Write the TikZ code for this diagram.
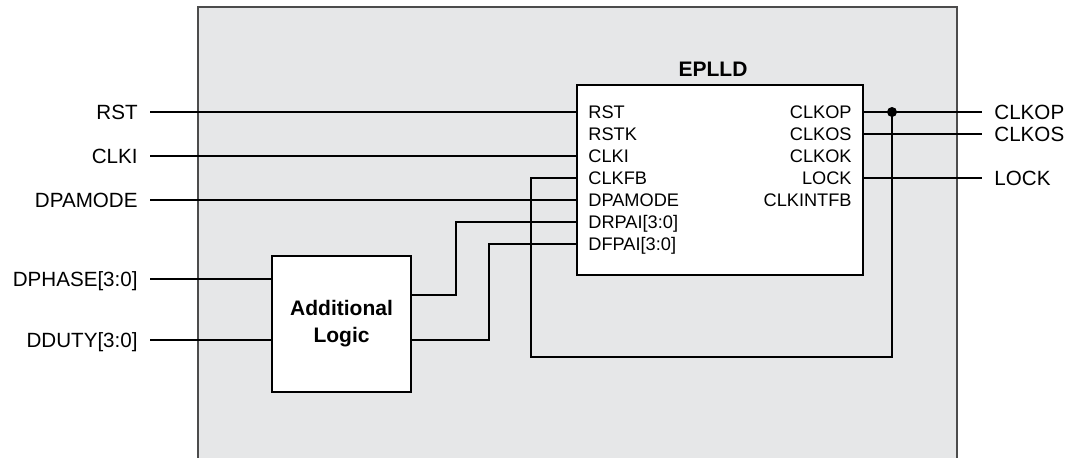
\documentclass[tikz,border=0pt]{standalone}
\usepackage{fontspec}
\setmainfont{Liberation Sans}
\usetikzlibrary{positioning,calc}
\definecolor{panel}{RGB}{230,231,232}

\begin{document}
\begin{tikzpicture}[x=0.5pt,y=-0.5pt,
 wire/.style={line width=0.55pt},
 block/.style={draw,line width=0.75pt,fill=white,inner sep=0pt},
 pin/.style={font=\fontsize{9.1}{10}\selectfont,inner sep=0pt,text height=6.5pt,text depth=0pt},
 sig/.style={font=\fontsize{10.3}{12}\selectfont,inner xsep=6pt,inner ysep=0pt,text height=7.4pt,text depth=0pt},
 title/.style={font=\fontsize{10.5}{13.5}\selectfont\bfseries,align=center}]
\useasboundingbox (0,0) rectangle (1068,457);
% shaded area, runs off the bottom
\fill[panel] (198,7) rectangle (957,460);
\draw[line width=0.75pt,black!70] (198,460) |- (957,7) -- (957,460);

% blocks
\node[block,minimum width=143pt,minimum height=95pt] (epll) at (720,180) {};
\node[title] (eplltitle) at (713,69) {EPLLD};
\node[block,title,minimum width=69.5pt,minimum height=68pt] (logic) at (341.5,324) {Additional\\Logic};

% pins of the EPLLD
\foreach \name [count=\i] in {RST,RSTK,CLKI,CLKFB,DPAMODE,DRPAI[3:0],DFPAI[3:0]}
  \node[pin,anchor=west] (in\i) at (588,{90+22*\i}) {\name};
\foreach \name [count=\i] in {CLKOP,CLKOS,CLKOK,LOCK,CLKINTFB}
  \node[pin,anchor=east] (out\i) at (852,{90+22*\i}) {\name};

% outside signals
\node[sig,anchor=east] (rst) at (150,112) {RST};
\node[sig,anchor=east] (clki) at (150,156) {CLKI};
\node[sig,anchor=east] (dpamode) at (150,200) {DPAMODE};
\node[sig,anchor=east] (dphase) at (150,279) {DPHASE[3:0]};
\node[sig,anchor=east] (dduty) at (150,340) {DDUTY[3:0]};
\node[sig,anchor=west] (clkop) at (982,112) {CLKOP};
\node[sig,anchor=west] (clkos) at (982,134) {CLKOS};
\node[sig,anchor=west] (lock) at (982,178) {LOCK};

\coordinate (j1) at (456,295);
\coordinate (j2) at (489,340);
\coordinate (tap) at (892,112);
\coordinate (fbl) at (531,357);

% wires
\draw[wire] (rst) -- (in1 -| epll.west);
\draw[wire] (clki) -- (in3 -| epll.west);
\draw[wire] (dpamode) -- (in5 -| epll.west);
\draw[wire] (dphase) -- (dphase -| logic.west);
\draw[wire] (dduty) -- (dduty -| logic.west);
\draw[wire] (logic.east |- j1) -- (j1) |- (in6 -| epll.west);
\draw[wire] (logic.east |- j2) -- (j2) |- (in7 -| epll.west);
\draw[wire] (out1 -| epll.east) -- (clkop);
\draw[wire] (out2 -| epll.east) -- (clkos);
\draw[wire] (out4 -| epll.east) -- (lock);
\draw[wire] (tap) |- (fbl) |- (in4 -| epll.west);
\fill (tap) circle (2.5pt);
\end{tikzpicture}
\end{document}
